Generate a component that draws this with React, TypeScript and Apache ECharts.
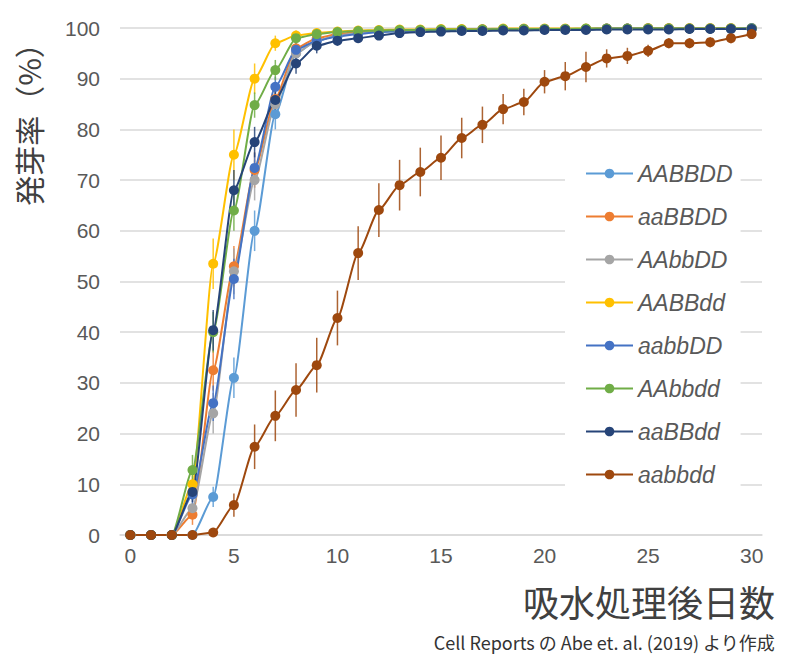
import React, { useEffect, useRef } from "react";
import * as echarts from "echarts";

const days = Array.from({ length: 31 }, (_, i) => String(i));

const seriesNames = ["AABBDD", "aaBBDD", "AAbbDD", "AABBdd", "aabbDD", "AAbbdd", "aaBBdd", "aabbdd"];
const seriesColors = ["#5B9BD5", "#ED7D31", "#A5A5A5", "#FFC000", "#4472C4", "#70AD47", "#264478", "#9E480E"];

const AABBDD = [0, 0, 0, 0, 7.5, 31, 60, 83, 95, 97.5, 98.5, 99, 99.2, 99.4, 99.5, 99.5, 99.6, 99.6, 99.7, 99.7, 99.8, 99.8, 99.8, 99.8, 99.9, 99.9, 99.9, 99.9, 99.9, 99.9, 99.9];
const aaBBDD = [0, 0, 0, 4, 32.5, 53, 72, 86, 96, 98, 98.8, 99.2, 99.4, 99.5, 99.6, 99.6, 99.7, 99.7, 99.7, 99.8, 99.8, 99.8, 99.8, 99.9, 99.9, 99.9, 99.9, 99.9, 99.9, 99.9, 99.9];
const AAbbDD = [0, 0, 0, 5.3, 24, 52, 70, 85, 95, 97.5, 98.5, 99, 99.3, 99.4, 99.5, 99.5, 99.6, 99.6, 99.7, 99.7, 99.7, 99.8, 99.8, 99.8, 99.8, 99.9, 99.9, 99.9, 99.9, 99.9, 99.9];
const AABBdd = [0, 0, 0, 10, 53.5, 75, 90, 97, 98.5, 99, 99.3, 99.5, 99.6, 99.7, 99.7, 99.8, 99.8, 99.8, 99.9, 99.9, 99.9, 99.9, 99.9, 99.9, 99.9, 100, 100, 100, 100, 100, 100];
const aabbDD = [0, 0, 0, 8, 26, 50.5, 72.4, 88.4, 95.7, 97.5, 98.3, 98.8, 99.2, 99.4, 99.5, 99.6, 99.6, 99.7, 99.7, 99.8, 99.8, 99.8, 99.8, 99.9, 99.9, 99.9, 99.9, 99.9, 99.9, 99.9, 100];
const AAbbdd = [0, 0, 0, 12.8, 40, 64, 84.8, 91.7, 98, 98.8, 99.2, 99.4, 99.5, 99.6, 99.6, 99.7, 99.7, 99.7, 99.8, 99.8, 99.8, 99.8, 99.9, 99.9, 99.9, 99.9, 99.9, 99.9, 99.9, 99.9, 99.9];
const aaBBdd = [0, 0, 0, 8.5, 40.4, 68, 77.5, 85.8, 93, 96.5, 97.5, 98, 98.5, 99, 99.2, 99.3, 99.4, 99.4, 99.5, 99.5, 99.6, 99.6, 99.6, 99.7, 99.7, 99.7, 99.7, 99.8, 99.8, 99.8, 99.8];
const aabbdd = [0, 0, 0, 0, 0.5, 5.9, 17.4, 23.5, 28.6, 33.5, 42.8, 55.6, 64.1, 69, 71.6, 74.4, 78.3, 80.9, 84, 85.4, 89.4, 90.5, 92.3, 94, 94.5, 95.5, 97, 97, 97.2, 98, 98.8];

const errAABBDD = [0, 0, 0, 0, 2, 4, 4, 3, 1.5, 1, 0.8, 0.5, 0.5, 0.4, 0.4, 0.4, 0.3, 0.3, 0.3, 0.3, 0.3, 0.3, 0.3, 0.2, 0.2, 0.2, 0.2, 0.2, 0.2, 0.2, 0.2];
const erraaBBDD = [0, 0, 0, 2, 4, 4, 3.5, 3, 1.5, 1, 0.8, 0.5, 0.5, 0.4, 0.4, 0.4, 0.3, 0.3, 0.3, 0.3, 0.3, 0.3, 0.3, 0.2, 0.2, 0.2, 0.2, 0.2, 0.2, 0.2, 0.2];
const errAAbbDD = [0, 0, 0, 2, 4, 4.5, 4, 3, 1.5, 1, 0.8, 0.5, 0.5, 0.4, 0.4, 0.4, 0.3, 0.3, 0.3, 0.3, 0.3, 0.3, 0.3, 0.2, 0.2, 0.2, 0.2, 0.2, 0.2, 0.2, 0.2];
const errAABBdd = [0, 0, 0, 3, 5, 5, 3, 1.5, 1, 0.8, 0.5, 0.5, 0.4, 0.4, 0.3, 0.3, 0.3, 0.3, 0.2, 0.2, 0.2, 0.2, 0.2, 0.2, 0.2, 0.2, 0.2, 0.2, 0.2, 0.2, 0.2];
const erraabbDD = [0, 0, 0, 2, 3.5, 4, 3, 2, 1.5, 1, 0.8, 0.5, 0.5, 0.4, 0.4, 0.4, 0.3, 0.3, 0.3, 0.3, 0.3, 0.3, 0.3, 0.2, 0.2, 0.2, 0.2, 0.2, 0.2, 0.2, 0.2];
const errAAbbdd = [0, 0, 0, 3, 4, 4, 2.5, 2, 1, 0.8, 0.6, 0.5, 0.5, 0.4, 0.4, 0.4, 0.3, 0.3, 0.3, 0.3, 0.3, 0.3, 0.3, 0.2, 0.2, 0.2, 0.2, 0.2, 0.2, 0.2, 0.2];
const erraaBBdd = [0, 0, 0, 2, 4, 4, 3, 2.5, 2, 1.5, 1, 0.8, 0.6, 0.5, 0.5, 0.4, 0.4, 0.4, 0.3, 0.3, 0.3, 0.3, 0.3, 0.3, 0.3, 0.3, 0.3, 0.2, 0.2, 0.2, 0.2];
const erraabbdd = [0, 0, 0, 0, 0.5, 2.3, 4.4, 5, 5.3, 5.4, 5.4, 5.3, 5.3, 5, 4.8, 4.4, 4, 3.6, 3, 2.6, 2.3, 2.8, 3, 1.8, 1.6, 1.2, 1, 1, 1, 1, 0.8];

const seriesValues = [AABBDD, aaBBDD, AAbbDD, AABBdd, aabbDD, AAbbdd, aaBBdd, aabbdd];
const seriesErrors = [errAABBDD, erraaBBDD, errAAbbDD, errAABBdd, erraabbDD, errAAbbdd, erraaBBdd, erraabbdd];

const yTitle = "発芽率（%）";
const xTitle = "吸水処理後日数";
const sourceNote = "Cell Reports の Abe et. al. (2019) より作成";

export default function App() {
  const ref = useRef<HTMLDivElement>(null);
  useEffect(() => {
    if (!ref.current) return;
    const chart = echarts.init(ref.current, null, { renderer: "svg" });
    const series: any[] = [];
    seriesNames.forEach((name, si) => {
      const color = seriesColors[si];
      series.push({
        name: name + "_err",
        type: "custom",
        data: seriesValues[si].map((v, i) => [i, v, seriesErrors[si][i]]),
        renderItem: (params: any, api: any) => {
          const x = api.value(0);
          const y = api.value(1);
          const e = api.value(2);
          if (!e) return null;
          const top = api.coord([x, Math.min(100, y + e)]);
          const bot = api.coord([x, Math.max(0, y - e)]);
          return {
            type: "line",
            shape: { x1: top[0], y1: top[1], x2: bot[0], y2: bot[1] },
            style: { stroke: color, lineWidth: 1.5, opacity: 0.85 },
          };
        },
        z: 2,
        silent: true,
      });
      series.push({
        name,
        type: "line",
        data: seriesValues[si],
        smooth: 0.2,
        smoothMonotone: "x",
        symbol: "circle",
        symbolSize: 10,
        lineStyle: { color, width: 2 },
        itemStyle: { color },
        z: 3,
      });
    });
    chart.setOption({
      animation: false,
      backgroundColor: "#ffffff",
      color: seriesColors,
      grid: { left: 120, right: 25, top: 28, bottom: 124 },
      legend: {
        data: seriesNames,
        orient: "vertical",
        left: 565,
        top: 150,
        padding: [12, 8, 12, 20],
        backgroundColor: "#ffffff",
        itemGap: 20,
        itemWidth: 47,
        itemHeight: 12,
        textStyle: { fontStyle: "italic", fontSize: 23, color: "#595959", fontFamily: "Liberation Sans" },
        z: 5,
      },
      xAxis: {
        type: "category",
        data: days,
        boundaryGap: true,
        axisLine: { show: true, lineStyle: { color: "#D9D9D9", width: 1.5 } },
        axisTick: { show: false },
        axisLabel: { interval: 4, fontSize: 21, color: "#595959", margin: 10, fontFamily: "Liberation Sans" },
        splitLine: { show: false },
      },
      yAxis: {
        type: "value",
        min: 0,
        max: 100,
        interval: 10,
        axisLine: { show: false },
        axisTick: { show: false },
        axisLabel: { fontSize: 21, color: "#595959", margin: 20, fontFamily: "Liberation Sans" },
        splitLine: { lineStyle: { color: "#D9D9D9", width: 1.5 } },
      },
      graphic: [
        {
          type: "text",
          x: 28,
          y: 117,
          rotation: Math.PI / 2,
          style: {
            text: yTitle,
            fontSize: 30,
            fontFamily: "Noto Sans CJK JP",
            fill: "#404040",
            align: "center",
            verticalAlign: "middle",
          },
        },
        {
          type: "text",
          right: 12,
          top: 583,
          style: {
            text: xTitle,
            fontSize: 36,
            fontFamily: "Noto Sans CJK JP",
            fill: "#404040",
          },
        },
        {
          type: "text",
          right: 12,
          top: 633,
          style: {
            text: sourceNote,
            fontSize: 18,
            fontFamily: "Noto Sans CJK JP",
            fill: "#333333",
          },
        },
      ],
      series,
    });
    return () => chart.dispose();
  }, []);
  return <div ref={ref} style={{ position: "fixed", left: 0, top: 0, width: 787, height: 659 }} />;
}
